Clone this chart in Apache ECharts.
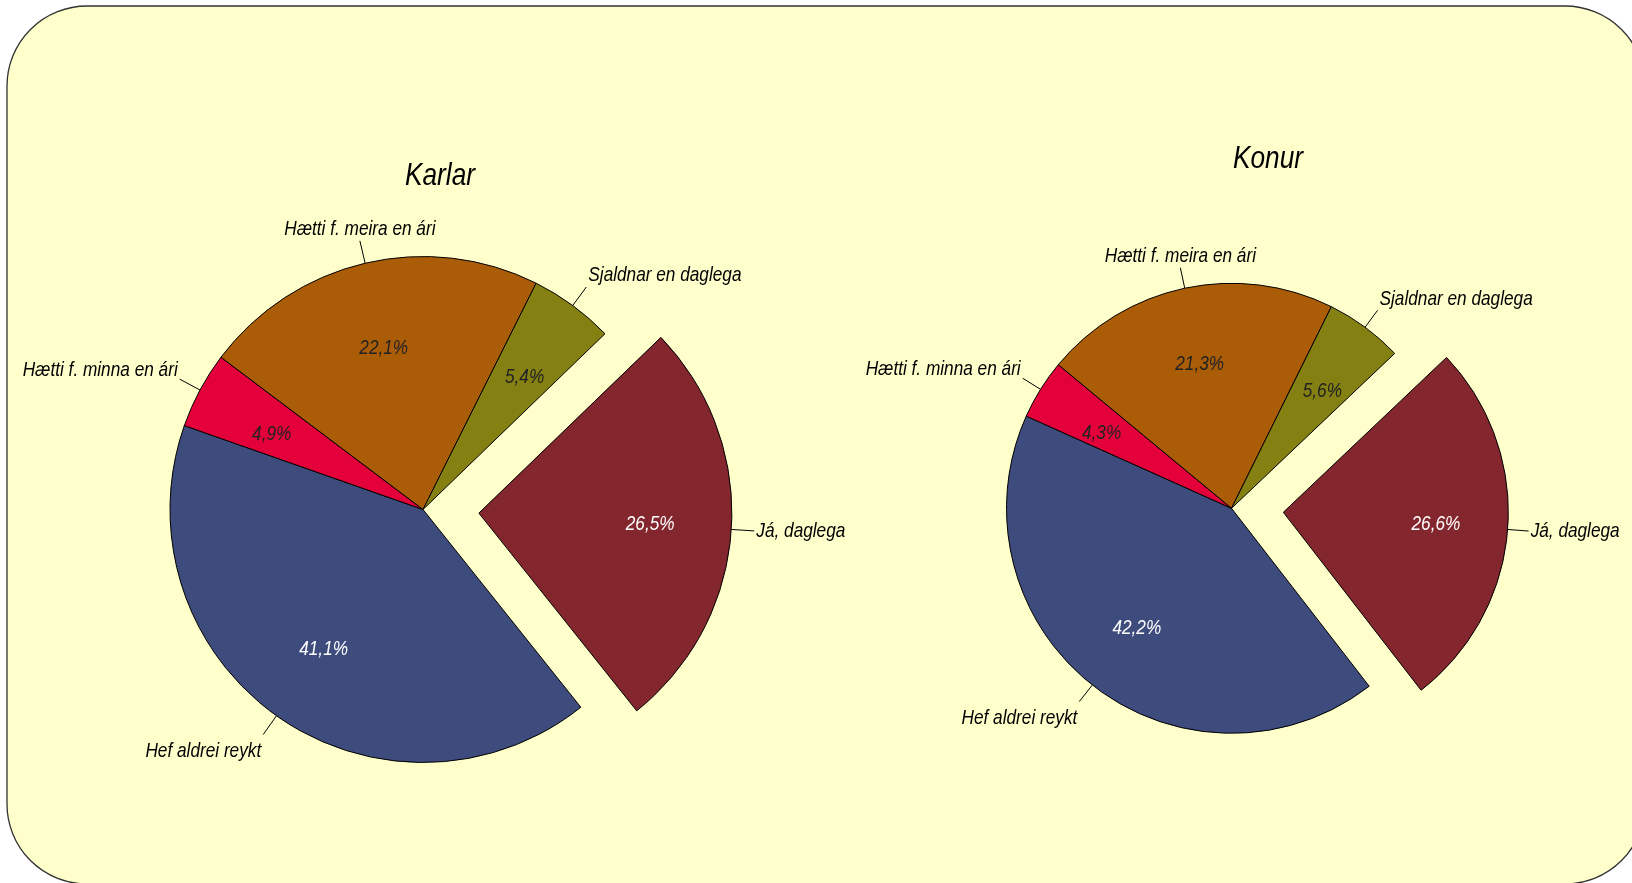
<!DOCTYPE html>
<html>
<head>
<meta charset="utf-8">
<script src="https://cdn.jsdelivr.net/npm/echarts@6/dist/echarts.min.js"></script>
<style>
html,body{margin:0;padding:0;background:#ffffff;}
#chart{width:1632px;height:883px;}
</style>
</head>
<body>
<div id="chart"></div>
<script>
// ---- data ----
const categories = ['Já, daglega', 'Hef aldrei reykt', 'Hætti f. minna en ári', 'Hætti f. meira en ári', 'Sjaldnar en daglega'];
const karlarValues = [26.5, 41.1, 4.9, 22.1, 5.4];
const konurValues = [26.6, 42.2, 4.3, 21.3, 5.6];
const chartTitles = ['Karlar', 'Konur'];

// ---- style ----
const sliceColors = ['#84262D', '#3E4B7D', '#E4003A', '#AA5D06', '#858012'];
const innerLabelColors = ['#FFFFFF', '#FFFFFF', '#222222', '#222222', '#222222'];
const FONT = "'Liberation Sans',Arial,sans-serif";
const NARROW = 0.82; // horizontal squeeze to imitate a narrow typeface
const explodedIndex = 0;

const pies = [
  { values: karlarValues, title: chartTitles[0], center: [423, 509.5], r: 253, start: 44, explode: 56, labelLen: 23, titleX: 440, titleY: 160 },
  { values: konurValues, title: chartTitles[1], center: [1231.5, 508.3], r: 225, start: 43.5, explode: 52, labelLen: 21, titleX: 1268, titleY: 143.5 }
];

function fmtPct(v) { return v.toFixed(1).replace('.', ',') + '%'; }

function outerLayout(params) {
  const pts = params.labelLinePoints;
  if (!pts || pts.length < 2) return {};
  const p0 = pts[0], p1 = pts[pts.length - 1];
  const ang = Math.atan2(-(p1[1] - p0[1]), p1[0] - p0[0]);
  const c = Math.cos(ang), s = Math.sin(ang);
  let x = p1[0], y = p1[1], align = 'center', va = 'middle';
  if (c > 0.3) { align = 'left'; x = p1[0] + 2; }
  else if (c < -0.3) { align = 'right'; x = p1[0] - 2; }
  if (s > 0.3) { va = 'bottom'; y = p1[1] + (s < 0.6 ? 1 : -1); }
  else if (s < -0.3) { va = 'top'; y = p1[1] + 6.5; }
  return { x: x, y: y, align: align, verticalAlign: va, labelLinePoints: pts };
}

const seriesCenters = [];
function innerLayout(params) {
  const r = params.labelRect;
  if (!r) return {};
  const cx = r.x + r.width / 2, cy = r.y + r.height / 2;
  const pc = seriesCenters[params.seriesIndex];
  const shift = (pc && cy < pc[1] - 20) ? 6 : 0;
  return { x: cx, y: cy + shift, align: 'center', verticalAlign: 'middle' };
}

const series = [];
const titles = [];
pies.forEach(function (p) {
  const total = p.values.reduce(function (a, b) { return a + b; }, 0);
  const midRad = (p.start - p.values[explodedIndex] / total * 360 / 2) * Math.PI / 180;
  const explodedCenter = [p.center[0] + p.explode * Math.cos(midRad), p.center[1] - p.explode * Math.sin(midRad)];

  const base = {
    type: 'pie', startAngle: p.start, clockwise: true, avoidLabelOverlap: false,
    animation: false, silent: true, emphasis: { disabled: true }, minAngle: 0
  };
  function makeData(isExploded, inner) {
    return categories.map(function (name, i) {
      const visible = isExploded ? i === explodedIndex : i !== explodedIndex;
      return {
        name: name,
        value: p.values[i],
        itemStyle: (inner || !visible)
          ? { color: 'rgba(0,0,0,0)', borderWidth: 0 }
          : { color: sliceColors[i], borderColor: '#000000', borderWidth: 1 },
        label: inner ? { show: visible, color: innerLabelColors[i] } : { show: visible },
        labelLine: { show: !inner && visible }
      };
    });
  }
  [false, true].forEach(function (isExp) {
    seriesCenters.push(isExp ? explodedCenter : p.center);
    series.push(Object.assign({}, base, {
      center: isExp ? explodedCenter : p.center,
      radius: [0, p.r],
      data: makeData(isExp, false),
      label: {
        position: 'outside', formatter: '{b}', fontFamily: FONT, fontStyle: 'italic',
        fontSize: 21, color: '#000000', distanceToLabelLine: 0, bleedMargin: 0, overflow: 'none'
      },
      labelLine: { length: p.labelLen, length2: 0, smooth: false, lineStyle: { color: '#000000', width: 1 } },
      labelLayout: outerLayout
    }));
  });
  [false, true].forEach(function (isExp) {
    seriesCenters.push(isExp ? explodedCenter : p.center);
    series.push(Object.assign({}, base, {
      center: isExp ? explodedCenter : p.center,
      radius: [p.r / 3, p.r],
      data: makeData(isExp, true),
      label: {
        position: 'inside', formatter: function (prm) { return fmtPct(prm.value); },
        fontFamily: FONT, fontStyle: 'italic', fontSize: 21
      },
      labelLine: { show: false },
      labelLayout: innerLayout
    }));
  });
  titles.push({
    text: p.title, left: p.titleX, top: p.titleY, textAlign: 'center', padding: 0,
    textStyle: { fontFamily: FONT, fontStyle: 'italic', fontWeight: 'normal', fontSize: 32, color: '#000000' }
  });
});

const chart = echarts.init(document.getElementById('chart'), null, { renderer: 'canvas' });
chart.setOption({
  backgroundColor: '#ffffff',
  animation: false,
  title: titles,
  graphic: [{
    type: 'rect', z: -10, silent: true,
    shape: { x: 7, y: 6, width: 1638, height: 878, r: 80 },
    style: { fill: '#FFFFCC', stroke: '#333333', lineWidth: 1.3 }
  }],
  series: series
});

// squeeze all texts horizontally around their anchor point
(function squeezeTexts() {
  const zr = chart.getZr();
  const found = [];
  function collect(el) {
    if (!el) return;
    if (el.type === 'text') found.push(el);
    const tc = el.getTextContent && el.getTextContent();
    if (tc) collect(tc);
    if (el.isGroup && el.childrenRef) el.childrenRef().forEach(collect);
  }
  zr.storage.getRoots().forEach(collect);
  found.forEach(function (t) {
    t.originX = (t.style && t.style.x) || 0;
    t.originY = (t.style && t.style.y) || 0;
    t.scaleX = NARROW;
    t.markRedraw();
  });
  zr.refresh();
})();
</script>
</body>
</html>
